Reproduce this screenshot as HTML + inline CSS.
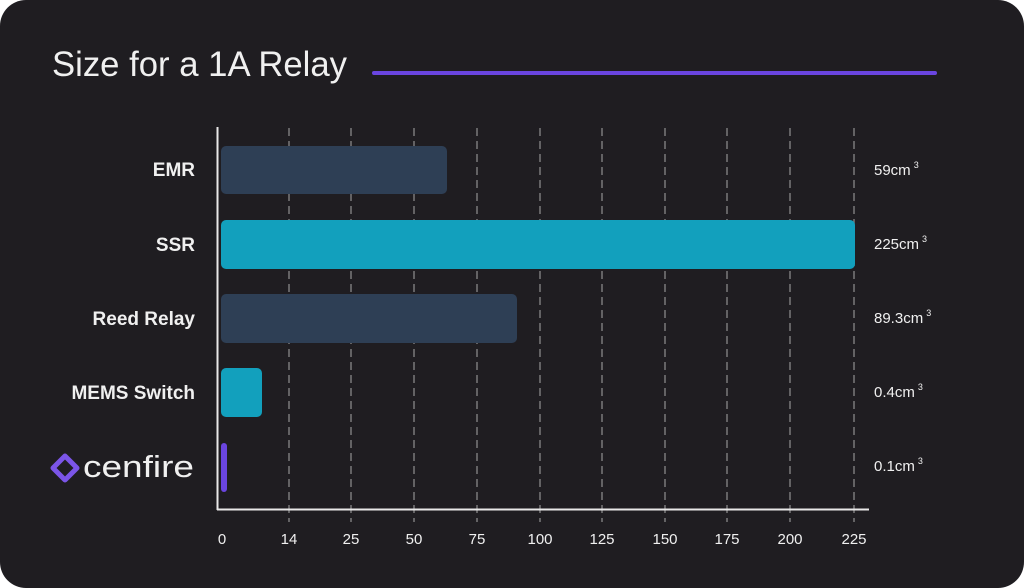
<!DOCTYPE html>
<html><head><style>
html,body{margin:0;padding:0;background:#fff;}
body{width:1024px;height:588px;overflow:hidden;}
.card{position:absolute;left:0;top:0;width:1024px;height:588px;background:#1f1d21;border-radius:26px;}
svg{position:absolute;left:0;top:0;}
text{font-family:"Liberation Sans","DejaVu Sans",sans-serif;fill:#f0f0f0;}
</style></head><body>
<div class="card"></div>
<svg width="1024" height="588" viewBox="0 0 1024 588">
<text x="52" y="76" font-size="35" fill="#f2f2f2" textLength="295" lengthAdjust="spacingAndGlyphs">Size for a 1A Relay</text>
<rect x="372" y="71" width="565" height="4" rx="2" fill="#6a45e0"/>
<g stroke="#7a7a7a" stroke-width="1.5" stroke-dasharray="8,5">
<line x1="289" y1="128" x2="289" y2="522"/>
<line x1="351" y1="128" x2="351" y2="522"/>
<line x1="414" y1="128" x2="414" y2="522"/>
<line x1="477" y1="128" x2="477" y2="522"/>
<line x1="540" y1="128" x2="540" y2="522"/>
<line x1="602" y1="128" x2="602" y2="522"/>
<line x1="665" y1="128" x2="665" y2="522"/>
<line x1="727" y1="128" x2="727" y2="522"/>
<line x1="790" y1="128" x2="790" y2="522"/>
<line x1="854" y1="128" x2="854" y2="522"/>
</g>
<rect x="221" y="146" width="226" height="48" rx="5" fill="#2e3f55"/>
<rect x="221" y="220" width="634" height="49" rx="5" fill="#12a0bd"/>
<rect x="221" y="294" width="296" height="49" rx="5" fill="#2e3f55"/>
<rect x="221" y="368" width="41" height="49" rx="5" fill="#12a0bd"/>
<rect x="221" y="443" width="6" height="49" rx="3" fill="#6a45e0"/>
<line x1="217.5" y1="127" x2="217.5" y2="510" stroke="#e8e8e8" stroke-width="2"/>
<line x1="217" y1="509.5" x2="869" y2="509.5" stroke="#e8e8e8" stroke-width="2"/>
<g font-size="19" text-anchor="end" font-weight="bold">
<text x="195" y="176">EMR</text>
<text x="195" y="251">SSR</text>
<text x="195" y="325">Reed Relay</text>
<text x="195" y="399">MEMS Switch</text>
</g>
<g transform="translate(51,454)">
<path d="M14 2 L26 14 L14 26 L2 14 Z" fill="none" stroke="#7b55e8" stroke-width="5" stroke-linejoin="round"/>
</g>
<text x="83" y="477" font-size="31" fill="#f4f4f4" textLength="111" lengthAdjust="spacingAndGlyphs">cenfire</text>
<g font-size="15">
<text x="874" y="175">59cm<tspan font-size="9" dy="-7" dx="3">3</tspan></text>
<text x="874" y="249">225cm<tspan font-size="9" dy="-7" dx="3">3</tspan></text>
<text x="874" y="323">89.3cm<tspan font-size="9" dy="-7" dx="3">3</tspan></text>
<text x="874" y="397">0.4cm<tspan font-size="9" dy="-7" dx="3">3</tspan></text>
<text x="874" y="471">0.1cm<tspan font-size="9" dy="-7" dx="3">3</tspan></text>
</g>
<g font-size="15" text-anchor="middle">
<text x="222" y="544">0</text>
<text x="289" y="544">14</text>
<text x="351" y="544">25</text>
<text x="414" y="544">50</text>
<text x="477" y="544">75</text>
<text x="540" y="544">100</text>
<text x="602" y="544">125</text>
<text x="665" y="544">150</text>
<text x="727" y="544">175</text>
<text x="790" y="544">200</text>
<text x="854" y="544">225</text>
</g>
</svg>
</body></html>
